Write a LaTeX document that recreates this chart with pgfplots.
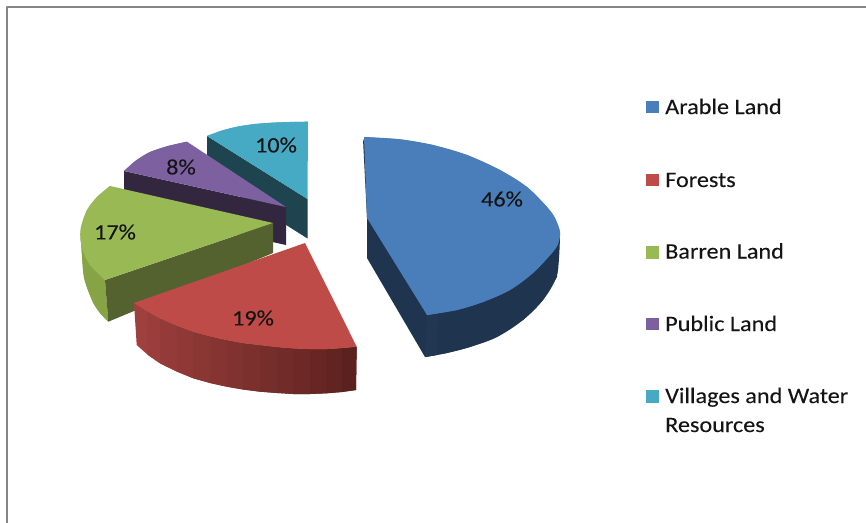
\documentclass[border=0pt]{standalone}
\usepackage{pgfplots}
\usepackage{fontspec}
\setmainfont{Carlito}[FakeStretch=1.1,FakeBold=0.06]
\pgfplotsset{compat=1.18}
\definecolor{cblue}{HTML}{4A7EBB}
\definecolor{cbluedk}{HTML}{1F344F}
\definecolor{cbluemd}{HTML}{213854}
\definecolor{cred}{HTML}{BE4B48}
\definecolor{credL}{HTML}{9E403D}
\definecolor{credD}{HTML}{571F1D}
\definecolor{cgreen}{HTML}{98B954}
\definecolor{cgreendk}{HTML}{546230}
\definecolor{cgreenmd}{HTML}{86A346}
\definecolor{cpurple}{HTML}{7D60A0}
\definecolor{cpurpledk}{HTML}{33263F}
\definecolor{ccyan}{HTML}{46AAC5}
\definecolor{ccyandk}{HTML}{1E444F}
\definecolor{cframe}{HTML}{868686}
\definecolor{ctext}{HTML}{141414}
\newcommand{\lab}{\fontsize{22bp}{26bp}\selectfont\color{ctext}}
\begin{document}
\begin{tikzpicture}
\begin{axis}[
  hide axis, scale only axis, width=866bp, height=523bp,
  xmin=0, xmax=866, ymin=0, ymax=523, y dir=reverse,
  every axis plot/.append style={line join=round},
  arc/.style={smooth, tension=0.6, draw=none},
]
% page background, which sets the picture's extent
\addplot[fill=white, draw=none] coordinates {(0,0) (866,0) (866,523) (0,523)};
% frame
\addplot[draw=cframe, line width=2.3bp] coordinates {(7.2,523) (7.2,7.2) (866,7.2)};
% cyan slice: 10
\addplot[fill=ccyandk, draw=none] coordinates {(207,136) (307.5,199) (307.5,238.5) (207,175)};
\addplot[fill=ccyan, draw=none] coordinates {(207,136) (222,130.5) (238,126.5) (255,124) (272,122.7) (290,122) (308,121.7) (307.5,199)};
\addplot[fill=ccyan, arc] coordinates {(207,136) (222,130.5) (238,126.5) (255,124) (272,122.7) (290,122) (308,121.7)};
% purple slice: 8
\addplot[fill=cpurpledk, draw=none] coordinates {(124,171) (286,207) (286,245) (124,209)};
\addplot[fill=cpurple, draw=none] coordinates {(124,171) (136,160.5) (150,152) (168,146) (187,141.7) (286,207)};
\addplot[fill=cpurple, arc] coordinates {(124,171) (136,160.5) (150,152) (168,146) (187,141.7)};
% green slice: 17
\addplot[fill=cgreenmd, draw=none] coordinates {(81,240) (83.3,273) (86.7,286.7) (93.3,303) (100,313) (108.3,321.7) (105,280)};
\addplot[fill=cgreenmd, arc] coordinates {(81,240) (83.3,273) (86.7,286.7) (93.3,303) (100,313) (108.3,321.7)};
\addplot[fill=cgreendk, draw=none] coordinates {(105,280) (273,223) (273,253) (108.3,321.7)};
\addplot[fill=cgreen, draw=none] coordinates {(110,186) (97,197) (87,210) (81,227) (80.5,240) (83,251) (90,265) (105,280) (273,223)};
\addplot[fill=cgreen, arc] coordinates {(110,186) (97,197) (87,210) (81,227) (80.5,240) (83,251) (90,265) (105,280)};
% red slice: 19, side as strips
\addplot[fill=credL!100!credD, draw=none] coordinates {(134,303) (160,318.3) (160,363.3) (148,355) (136.7,345)};
\addplot[fill=credL!93!credD, draw=none] coordinates {(147,311) (160,318.3) (176.6,325.5) (176.6,371.5) (160,363.3) (148,355)};
\addplot[fill=credL!86!credD, draw=none] coordinates {(160,318.3) (176.6,325.5) (193.3,331.7) (193.3,378.3) (176.6,371.5) (160,363.3)};
\addplot[fill=credL!79!credD, draw=none] coordinates {(176.6,325.5) (193.3,331.7) (210,336.2) (210,383) (193.3,378.3) (176.6,371.5)};
\addplot[fill=credL!72!credD, draw=none] coordinates {(193.3,331.7) (210,336.2) (226.7,340) (226.7,386.7) (210,383) (193.3,378.3)};
\addplot[fill=credL!65!credD, draw=none] coordinates {(210,336.2) (226.7,340) (243,343) (243,389.5) (226.7,386.7) (210,383)};
\addplot[fill=credL!58!credD, draw=none] coordinates {(226.7,340) (243,343) (260,345) (260,391.7) (243,389.5) (226.7,386.7)};
\addplot[fill=credL!51!credD, draw=none] coordinates {(243,343) (260,345) (277,347) (277,393) (260,391.7) (243,389.5)};
\addplot[fill=credL!44!credD, draw=none] coordinates {(260,345) (277,347) (293.3,348.3) (293.3,394) (277,393) (260,391.7)};
\addplot[fill=credL!37!credD, draw=none] coordinates {(277,347) (293.3,348.3) (310,349) (310,394) (293.3,394) (277,393)};
\addplot[fill=credL!30!credD, draw=none] coordinates {(293.3,348.3) (310,349) (326.7,349) (326.7,393.3) (310,394) (293.3,394)};
\addplot[fill=credL!22!credD, draw=none] coordinates {(310,349) (326.7,349) (342,348) (342,392) (326.7,393.3) (310,394)};
\addplot[fill=credL!14!credD, draw=none] coordinates {(326.7,349) (342,348) (356.7,346.7) (356,390) (342,392) (326.7,393.3)};
\addplot[fill=credL!6!credD, draw=none] coordinates {(342,348) (356.7,346.7) (356,390) (342,392)};
\addplot[fill=cred, draw=none] coordinates {(134,303) (147,311) (160,318.3) (176.6,325.5) (193.3,331.7) (210,336.2) (226.7,340) (243,343) (260,345) (277,347) (293.3,348.3) (310,349) (326.7,349) (342,348) (356.7,346.7) (305,243)};
\addplot[fill=cred, arc] coordinates {(134,303) (147,311) (160,318.3) (176.6,325.5) (193.3,331.7) (210,336.2) (226.7,340) (243,343) (260,345) (277,347) (293.3,348.3) (310,349) (326.7,349) (342,348) (356.7,346.7)};
% blue slice: 46
\addplot[fill=cbluedk, draw=none] coordinates {(363,139) (367,218) (367,258) (425,357) (447,353) (470,347) (497,337) (523,320) (543,300) (557,277) (560,234) (427,315)};
\addplot[fill=cbluedk, arc] coordinates {(560,234) (559,258) (556,278) (543,300) (523,320) (497,337) (470,347) (447,353) (425,357)};
\addplot[fill=cbluemd, draw=none] coordinates {(427,315) (425,357) (437,355) (438,313)};
\addplot[fill=cblue, draw=none] coordinates {(364,137) (400,139.3) (433,145) (467,155) (500,170) (527,187) (547,207) (555,218) (560,232) (558,244) (552,253) (533,273) (510,290) (483,302) (457,310) (427,315) (367,218)};
\addplot[fill=cblue, arc] coordinates {(364,137) (400,139.3) (433,145) (467,155) (500,170) (527,187) (547,207) (555,218) (560,232) (558,244) (552,253) (533,273) (510,290) (483,302) (457,310) (427,315)};
% legend keys
\addplot[fill=cblue, draw=none] coordinates {(646,101) (659,101) (659,113.5) (646,113.5)};
\addplot[fill=cred, draw=none] coordinates {(646,173.5) (659,173.5) (659,186) (646,186)};
\addplot[fill=cgreen, draw=none] coordinates {(646,246) (659,246) (659,258.5) (646,258.5)};
\addplot[fill=cpurple, draw=none] coordinates {(646,317.5) (659,317.5) (659,330) (646,330)};
\addplot[fill=ccyan, draw=none] coordinates {(646,390) (659,390) (659,402.5) (646,402.5)};
% legend text
\node[anchor=base west, inner sep=0pt] at (axis cs:665,114) {\lab Arable Land};
\node[anchor=base west, inner sep=0pt] at (axis cs:665,187) {\lab Forests};
\node[anchor=base west, inner sep=0pt] at (axis cs:665,258.5) {\lab Barren Land};
\node[anchor=base west, inner sep=0pt] at (axis cs:665,331) {\lab Public Land};
\node[anchor=base west, inner sep=0pt] at (axis cs:665,403) {\lab Villages and Water};
\node[anchor=base west, inner sep=0pt] at (axis cs:665,432) {\lab Resources};
% data labels
\node[inner sep=0pt] at (axis cs:502,199) {\lab 46\%};
\node[inner sep=0pt] at (axis cs:253,318) {\lab 19\%};
\node[inner sep=0pt] at (axis cs:115,232) {\lab 17\%};
\node[inner sep=0pt] at (axis cs:181,167) {\lab 8\%};
\node[inner sep=0pt] at (axis cs:276,145) {\lab 10\%};
\end{axis}
\end{tikzpicture}
\end{document}
